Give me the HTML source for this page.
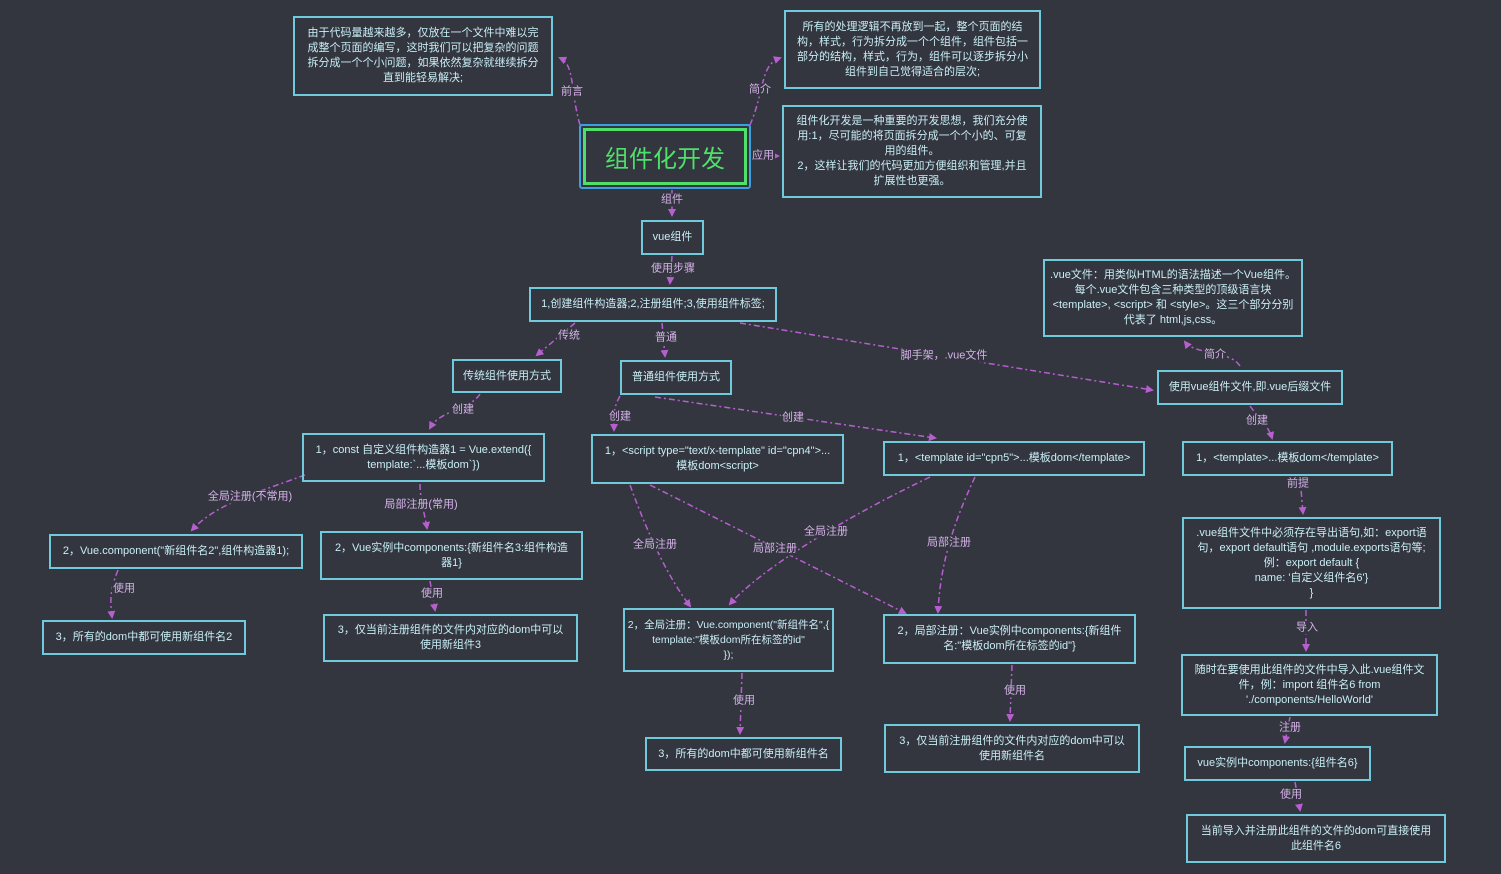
<!DOCTYPE html>
<html><head><meta charset="utf-8"><style>
body{margin:0;width:1501px;height:874px;background:#33353f;overflow:hidden;position:relative;font-family:"Liberation Sans","Noto Sans CJK SC",sans-serif}
.b{position:absolute;box-sizing:border-box;border:2px solid #6fcadb;color:#c8eef5;font-size:11px;line-height:15px;display:flex;align-items:center;justify-content:center;text-align:center;padding:2px 8px}
.l{position:absolute;color:#d7b4ea;font-size:11px;line-height:13px;transform:translate(-50%,-50%);white-space:nowrap;background:#33353f;padding:0 1px}
svg{position:absolute;left:0;top:0}
</style></head><body>
<svg width="1501" height="874">
<defs><marker id="a" markerWidth="8" markerHeight="8" refX="6" refY="4" orient="auto" markerUnits="userSpaceOnUse"><path d="M0,0 L8,4 L0,8z" fill="#b85fd0"/></marker></defs>
<g fill="none" stroke="#b85fd0" stroke-width="1.5" stroke-dasharray="6 3 2 3" marker-end="url(#a)">
<path d="M580,125 C570,90 575,65 560,58"/>
<path d="M750,125 C765,90 760,65 780,58"/>
<path d="M752,156 L778,156"/>
<path d="M672,190 L672,215"/>
<path d="M672,256 L670,283"/>
<path d="M575,323 L537,355"/>
<path d="M662,323 L665,356"/>
<path d="M740,323 L1152,390"/>
<path d="M1240,366 C1230,350 1195,355 1185,342"/>
<path d="M480,394 C470,410 440,410 430,428"/>
<path d="M620,396 C612,410 614,420 614,430"/>
<path d="M655,397 L935,438"/>
<path d="M1250,406 C1260,420 1268,425 1272,438"/>
<path d="M305,475 C250,495 215,505 192,530"/>
<path d="M420,484 C420,500 425,515 427,528"/>
<path d="M118,570 C110,590 110,600 112,617"/>
<path d="M430,581 L435,610"/>
<path d="M630,485 C650,540 670,580 690,606"/>
<path d="M650,485 L905,613"/>
<path d="M930,477 C840,520 760,570 730,604"/>
<path d="M975,477 C950,530 940,570 938,612"/>
<path d="M742,673 L740,733"/>
<path d="M1012,665 L1010,720"/>
<path d="M1300,477 L1303,513"/>
<path d="M1306,610 L1306,650"/>
<path d="M1290,717 L1285,742"/>
<path d="M1295,782 L1300,810"/>
</g></svg>
<div class="b" style="left:293px;top:16px;width:260px;height:80px">由于代码量越来越多，仅放在一个文件中难以完成整个页面的编写，这时我们可以把复杂的问题拆分成一个个小问题，如果依然复杂就继续拆分直到能轻易解决;</div>
<div class="b" style="left:784px;top:10px;width:257px;height:79px">所有的处理逻辑不再放到一起，整个页面的结构，样式，行为拆分成一个个组件，组件包括一部分的结构，样式，行为，组件可以逐步拆分小组件到自己觉得适合的层次;</div>
<div class="b" style="left:782px;top:105px;width:260px;height:93px">组件化开发是一种重要的开发思想，我们充分使用:1，尽可能的将页面拆分成一个个小的、可复用的组件。<br>2，这样让我们的代码更加方便组织和管理,并且扩展性也更强。</div>
<div style="position:absolute;left:579px;top:124px;width:172px;height:65px;box-sizing:border-box;border:2px solid #3aa0e0;border-radius:3px;padding:2px"><div style="box-sizing:border-box;height:100%;border:3px solid #4ee06a;color:#4ee06a;font-size:24px;display:flex;align-items:center;justify-content:center">组件化开发</div></div>
<div class="b" style="left:641px;top:220px;width:63px;height:35px;padding:0">vue组件</div>
<div class="b" style="left:529px;top:287px;width:248px;height:35px">1,创建组件构造器;2,注册组件;3,使用组件标签;</div>
<div class="b" style="left:452px;top:359px;width:110px;height:34px;padding:0">传统组件使用方式</div>
<div class="b" style="left:620px;top:360px;width:112px;height:35px;padding:0">普通组件使用方式</div>
<div class="b" style="left:1043px;top:259px;width:260px;height:78px;padding:2px 4px">.vue文件：用类似HTML的语法描述一个Vue组件。每个.vue文件包含三种类型的顶级语言块 &lt;template&gt;, &lt;script&gt; 和 &lt;style&gt;。这三个部分分别代表了 html,js,css。</div>
<div class="b" style="left:1157px;top:370px;width:186px;height:35px;padding:0">使用vue组件文件,即.vue后缀文件</div>
<div class="b" style="left:302px;top:433px;width:243px;height:49px">1，const 自定义组件构造器1 = Vue.extend({<br>template:`...模板dom`})</div>
<div class="b" style="left:591px;top:434px;width:253px;height:50px">1，&lt;script type="text/x-template" id="cpn4"&gt;...<br>模板dom&lt;script&gt;</div>
<div class="b" style="left:883px;top:441px;width:262px;height:35px;padding:0">1，&lt;template id="cpn5"&gt;...模板dom&lt;/template&gt;</div>
<div class="b" style="left:1182px;top:441px;width:211px;height:35px;padding:0">1，&lt;template&gt;...模板dom&lt;/template&gt;</div>
<div class="b" style="left:49px;top:534px;width:254px;height:35px;padding:0">2，Vue.component("新组件名2",组件构造器1);</div>
<div class="b" style="left:320px;top:531px;width:263px;height:49px">2，Vue实例中components:{新组件名3:组件构造器1}</div>
<div class="b" style="left:1182px;top:517px;width:259px;height:92px;padding:2px 3px">.vue组件文件中必须存在导出语句,如：export语句，export default语句 ,module.exports语句等;<br>例：export default {<br>name: '自定义组件名6'}<br>}</div>
<div class="b" style="left:42px;top:620px;width:204px;height:35px;padding:0">3，所有的dom中都可使用新组件名2</div>
<div class="b" style="left:323px;top:614px;width:255px;height:48px">3，仅当前注册组件的文件内对应的dom中可以使用新组件3</div>
<div class="b" style="left:623px;top:608px;width:211px;height:64px;padding:2px 2px;font-size:10.5px"><span style="white-space:nowrap">2，全局注册：Vue.component("新组件名",{<br>template:"模板dom所在标签的id"<br>});</span></div>
<div class="b" style="left:883px;top:614px;width:253px;height:50px">2，局部注册：Vue实例中components:{新组件名:"模板dom所在标签的id"}</div>
<div class="b" style="left:645px;top:737px;width:197px;height:34px;padding:0">3，所有的dom中都可使用新组件名</div>
<div class="b" style="left:884px;top:724px;width:256px;height:49px">3，仅当前注册组件的文件内对应的dom中可以使用新组件名</div>
<div class="b" style="left:1181px;top:654px;width:257px;height:62px;padding:2px 3px">随时在要使用此组件的文件中导入此.vue组件文件，例：import 组件名6 from './components/HelloWorld'</div>
<div class="b" style="left:1184px;top:746px;width:187px;height:35px;padding:0">vue实例中components:{组件名6}</div>
<div class="b" style="left:1186px;top:814px;width:260px;height:49px">当前导入并注册此组件的文件的dom可直接使用此组件名6</div>
<div class="l" style="left:572px;top:92px">前言</div>
<div class="l" style="left:760px;top:90px">简介</div>
<div class="l" style="left:763px;top:156px">应用</div>
<div class="l" style="left:672px;top:200px">组件</div>
<div class="l" style="left:673px;top:269px">使用步骤</div>
<div class="l" style="left:569px;top:336px">传统</div>
<div class="l" style="left:666px;top:338px">普通</div>
<div class="l" style="left:944px;top:356px">脚手架，.vue文件</div>
<div class="l" style="left:1215px;top:355px">简介</div>
<div class="l" style="left:463px;top:410px">创建</div>
<div class="l" style="left:620px;top:417px">创建</div>
<div class="l" style="left:793px;top:418px">创建</div>
<div class="l" style="left:1257px;top:421px">创建</div>
<div class="l" style="left:250px;top:497px">全局注册(不常用)</div>
<div class="l" style="left:421px;top:505px">局部注册(常用)</div>
<div class="l" style="left:124px;top:589px">使用</div>
<div class="l" style="left:432px;top:594px">使用</div>
<div class="l" style="left:655px;top:545px">全局注册</div>
<div class="l" style="left:775px;top:549px">局部注册</div>
<div class="l" style="left:826px;top:532px">全局注册</div>
<div class="l" style="left:949px;top:543px">局部注册</div>
<div class="l" style="left:744px;top:701px">使用</div>
<div class="l" style="left:1015px;top:691px">使用</div>
<div class="l" style="left:1298px;top:484px">前提</div>
<div class="l" style="left:1307px;top:628px">导入</div>
<div class="l" style="left:1290px;top:728px">注册</div>
<div class="l" style="left:1291px;top:795px">使用</div>
</body></html>
